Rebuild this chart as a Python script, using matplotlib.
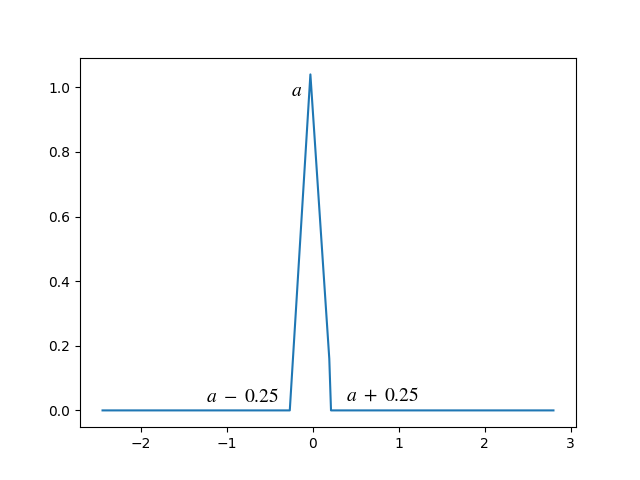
import numpy as np
import matplotlib.pyplot as plt

plt.rcParams['mathtext.fontset'] = 'stix'

# line vertices
x = [-2.45, -0.27, -0.03, 0.19, 0.21, 2.80]
y = [0.0, 0.0, 1.04, 0.16, 0.0, 0.0]

labels = ['$a$', r'$a\ -\ 0.25$', r'$a\ +\ 0.25$']
label_x = [-0.26, -1.24, 0.38]
label_y = [0.972, 0.025, 0.031]

fig, ax = plt.subplots(figsize=(6.4, 4.8), dpi=100)
ax.plot(x, y)
for t, lx, ly in zip(labels, label_x, label_y):
    ax.text(lx, ly, t, fontsize=14, ha='left', va='baseline')

plt.savefig('out.png')
